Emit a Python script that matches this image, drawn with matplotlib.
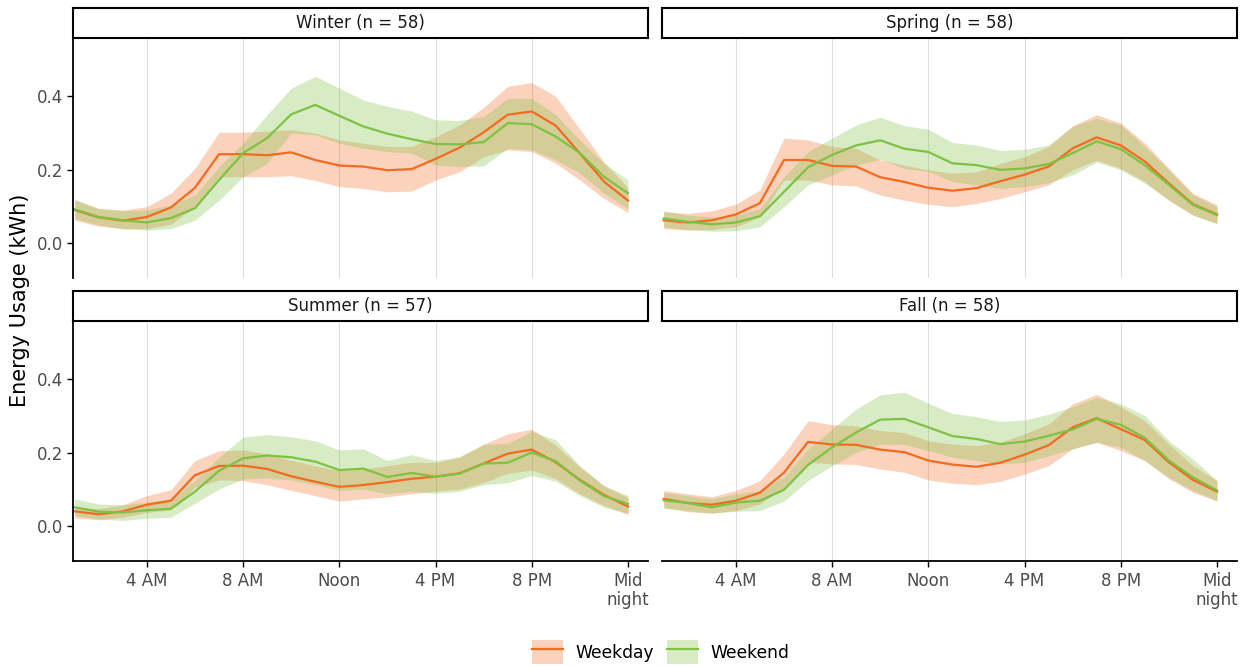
import numpy as np
import matplotlib
matplotlib.use("Agg")
import matplotlib.pyplot as plt
from matplotlib.patches import Patch
from matplotlib.lines import Line2D

# hour of day 1..24
hours = np.arange(1, 25)

tick_pos = [4, 8, 12, 16, 20, 24]
tick_labels = ["4 AM", "8 AM", "Noon", "4 PM", "8 PM", "Mid\nnight"]

seasons = ["Winter", "Spring", "Summer", "Fall"]
season_n = [58, 58, 57, 58]

# weekday mean / lower / upper band
winter_wd = [0.089,0.069,0.060,0.070,0.096,0.150,0.242,0.242,0.239,0.247,0.226,0.211,0.208,0.198,0.201,0.229,0.260,0.302,0.350,0.359,0.320,0.244,0.167,0.115]
winter_wd_lo = [0.061,0.045,0.038,0.038,0.050,0.098,0.180,0.180,0.180,0.183,0.170,0.153,0.148,0.139,0.141,0.171,0.194,0.235,0.254,0.249,0.217,0.171,0.121,0.082]
winter_wd_hi = [0.116,0.093,0.089,0.098,0.135,0.203,0.302,0.302,0.305,0.309,0.300,0.281,0.272,0.263,0.263,0.290,0.322,0.370,0.428,0.438,0.400,0.310,0.220,0.150]
winter_we = [0.091,0.070,0.061,0.055,0.067,0.094,0.171,0.245,0.286,0.351,0.377,0.347,0.318,0.298,0.283,0.270,0.269,0.275,0.327,0.324,0.290,0.245,0.180,0.135]
winter_we_lo = [0.066,0.048,0.038,0.034,0.038,0.061,0.116,0.180,0.217,0.300,0.295,0.272,0.258,0.249,0.245,0.212,0.208,0.210,0.258,0.254,0.226,0.190,0.135,0.093]
winter_we_hi = [0.119,0.093,0.087,0.089,0.103,0.130,0.208,0.272,0.350,0.423,0.455,0.423,0.390,0.373,0.360,0.336,0.334,0.345,0.395,0.395,0.350,0.280,0.217,0.171]

spring_wd = [0.061,0.055,0.061,0.077,0.108,0.226,0.226,0.210,0.208,0.179,0.166,0.150,0.142,0.149,0.168,0.186,0.208,0.258,0.288,0.266,0.222,0.162,0.105,0.077]
spring_wd_lo = [0.038,0.034,0.036,0.043,0.070,0.171,0.171,0.158,0.155,0.130,0.116,0.105,0.098,0.107,0.121,0.139,0.158,0.199,0.226,0.203,0.167,0.116,0.075,0.052]
spring_wd_hi = [0.084,0.080,0.087,0.105,0.144,0.286,0.281,0.263,0.258,0.226,0.212,0.199,0.190,0.194,0.217,0.235,0.263,0.320,0.350,0.327,0.272,0.203,0.135,0.103]
spring_we = [0.066,0.057,0.050,0.055,0.072,0.139,0.206,0.240,0.266,0.280,0.257,0.248,0.217,0.212,0.199,0.203,0.215,0.245,0.277,0.256,0.212,0.158,0.103,0.075]
spring_we_lo = [0.043,0.036,0.031,0.032,0.043,0.098,0.158,0.185,0.212,0.228,0.203,0.195,0.167,0.158,0.148,0.153,0.164,0.185,0.220,0.199,0.162,0.116,0.075,0.052]
spring_we_hi = [0.087,0.075,0.070,0.075,0.093,0.180,0.249,0.286,0.322,0.343,0.320,0.310,0.274,0.267,0.252,0.255,0.267,0.318,0.340,0.322,0.263,0.199,0.130,0.098]

summer_wd = [0.039,0.031,0.039,0.057,0.068,0.138,0.163,0.164,0.155,0.135,0.120,0.106,0.111,0.119,0.128,0.134,0.143,0.170,0.197,0.208,0.173,0.125,0.084,0.052]
summer_wd_lo = [0.021,0.016,0.023,0.036,0.043,0.105,0.125,0.123,0.112,0.096,0.082,0.067,0.073,0.079,0.087,0.094,0.100,0.118,0.143,0.152,0.128,0.087,0.055,0.030]
summer_wd_hi = [0.050,0.046,0.057,0.082,0.098,0.178,0.205,0.207,0.196,0.178,0.164,0.150,0.155,0.164,0.173,0.173,0.187,0.223,0.251,0.264,0.219,0.160,0.109,0.077]
summer_we = [0.050,0.038,0.036,0.042,0.046,0.093,0.150,0.184,0.192,0.187,0.175,0.152,0.156,0.133,0.144,0.134,0.142,0.170,0.172,0.200,0.176,0.123,0.081,0.059]
summer_we_lo = [0.027,0.018,0.014,0.020,0.023,0.061,0.100,0.128,0.130,0.125,0.112,0.096,0.100,0.087,0.094,0.088,0.094,0.112,0.117,0.137,0.121,0.082,0.050,0.034]
summer_we_hi = [0.073,0.059,0.057,0.064,0.073,0.123,0.187,0.242,0.249,0.243,0.232,0.207,0.210,0.178,0.194,0.178,0.189,0.222,0.225,0.258,0.234,0.164,0.109,0.082]

fall_wd = [0.073,0.062,0.057,0.068,0.090,0.145,0.229,0.222,0.221,0.208,0.201,0.178,0.167,0.161,0.172,0.194,0.220,0.269,0.294,0.264,0.234,0.173,0.125,0.093]
fall_wd_lo = [0.050,0.038,0.034,0.041,0.059,0.105,0.173,0.169,0.167,0.155,0.146,0.125,0.116,0.112,0.121,0.141,0.164,0.210,0.228,0.205,0.178,0.128,0.091,0.067]
fall_wd_hi = [0.096,0.087,0.079,0.096,0.123,0.196,0.287,0.276,0.273,0.260,0.255,0.232,0.223,0.219,0.228,0.251,0.278,0.333,0.359,0.325,0.287,0.223,0.164,0.123]
fall_we = [0.069,0.062,0.050,0.063,0.068,0.098,0.166,0.214,0.255,0.290,0.292,0.269,0.245,0.237,0.223,0.230,0.246,0.263,0.292,0.276,0.240,0.178,0.132,0.096]
fall_we_lo = [0.047,0.041,0.034,0.039,0.041,0.067,0.123,0.164,0.201,0.223,0.222,0.205,0.187,0.178,0.169,0.173,0.191,0.210,0.228,0.214,0.178,0.132,0.096,0.068]
fall_we_hi = [0.091,0.082,0.073,0.087,0.096,0.132,0.210,0.264,0.319,0.358,0.365,0.335,0.307,0.298,0.285,0.289,0.305,0.325,0.351,0.333,0.301,0.232,0.182,0.123]

weekday = [(winter_wd, winter_wd_lo, winter_wd_hi), (spring_wd, spring_wd_lo, spring_wd_hi),
           (summer_wd, summer_wd_lo, summer_wd_hi), (fall_wd, fall_wd_lo, fall_wd_hi)]
weekend = [(winter_we, winter_we_lo, winter_we_hi), (spring_we, spring_we_lo, spring_we_hi),
           (summer_we, summer_we_lo, summer_we_hi), (fall_we, fall_we_lo, fall_we_hi)]

ORANGE = "#f26b21"
GREEN = "#7dc242"
W, H = 1257, 666

fig = plt.figure(figsize=(W / 100, H / 100), dpi=100)

# panel boxes in pixels: (left, top) ; all panels 575 x 240, strip 30 high
panel_px = [(73, 38), (662, 38), (73, 321), (662, 321)]
pw, ph, sh = 575, 240, 30

for i, season in enumerate(seasons):
    px, py = panel_px[i]
    ax = fig.add_axes([px / W, 1 - (py + ph) / H, pw / W, ph / H])
    sax = fig.add_axes([px / W, 1 - py / H, pw / W, sh / H])

    mean, lo, hi = weekday[i]
    ax.fill_between(hours, lo, hi, color=ORANGE, alpha=0.3, lw=0)
    mean2, lo2, hi2 = weekend[i]
    ax.fill_between(hours, lo2, hi2, color=GREEN, alpha=0.3, lw=0)
    ax.plot(hours, mean, color=ORANGE, lw=1.6)
    ax.plot(hours, mean2, color=GREEN, lw=1.6)

    for g in tick_pos[:-1]:
        ax.axvline(g, color="#dddddd", lw=0.8, zorder=0)

    ax.set_xlim(0.93, 24.83)
    ax.set_ylim(-0.097, 0.56)
    ax.set_xticks(tick_pos)
    ax.set_xticklabels(tick_labels, linespacing=1.05)
    ax.set_yticks([0.0, 0.2, 0.4])
    ax.set_yticklabels(["0.0", "0.2", "0.4"])
    ax.tick_params(length=4, width=1, color="black", labelcolor="#4d4d4d",
                   labelsize=12, pad=3)
    ax.tick_params(axis="x", pad=4)
    for s in ["top", "right"]:
        ax.spines[s].set_visible(False)
    ax.spines["left"].set_linewidth(1.3)
    ax.spines["bottom"].set_linewidth(1.3)
    if i < 2:
        ax.spines["bottom"].set_visible(False)
        ax.tick_params(axis="x", bottom=False, labelbottom=False)
    if i % 2 == 1:
        ax.spines["left"].set_visible(False)
        ax.tick_params(axis="y", left=False, labelleft=False)

    # facet strip
    sax.set_xticks([])
    sax.set_yticks([])
    for s in sax.spines.values():
        s.set_linewidth(1.5)
        s.set_color("black")
    sax.text(0.5, 0.5, f"{season} (n = {season_n[i]})", ha="center", va="center",
             fontsize=12, color="#1a1a1a", transform=sax.transAxes)

fig.text(0.016, 1 - 300 / H, "Energy Usage (kWh)", rotation=90, ha="center",
         va="center", fontsize=15)

handles = [(Patch(facecolor=ORANGE, alpha=0.3, lw=0), Line2D([], [], color=ORANGE, lw=1.6)),
           (Patch(facecolor=GREEN, alpha=0.3, lw=0), Line2D([], [], color=GREEN, lw=1.6))]
fig.legend(handles, ["Weekday", "Weekend"], loc="center", ncol=2,
           bbox_to_anchor=(661 / W, 1 - 652 / H), frameon=False, fontsize=12.3,
           handlelength=1.8, handleheight=1.8, handletextpad=0.75, columnspacing=0.75,
           borderpad=0)

fig.savefig("out.png", dpi=100)
